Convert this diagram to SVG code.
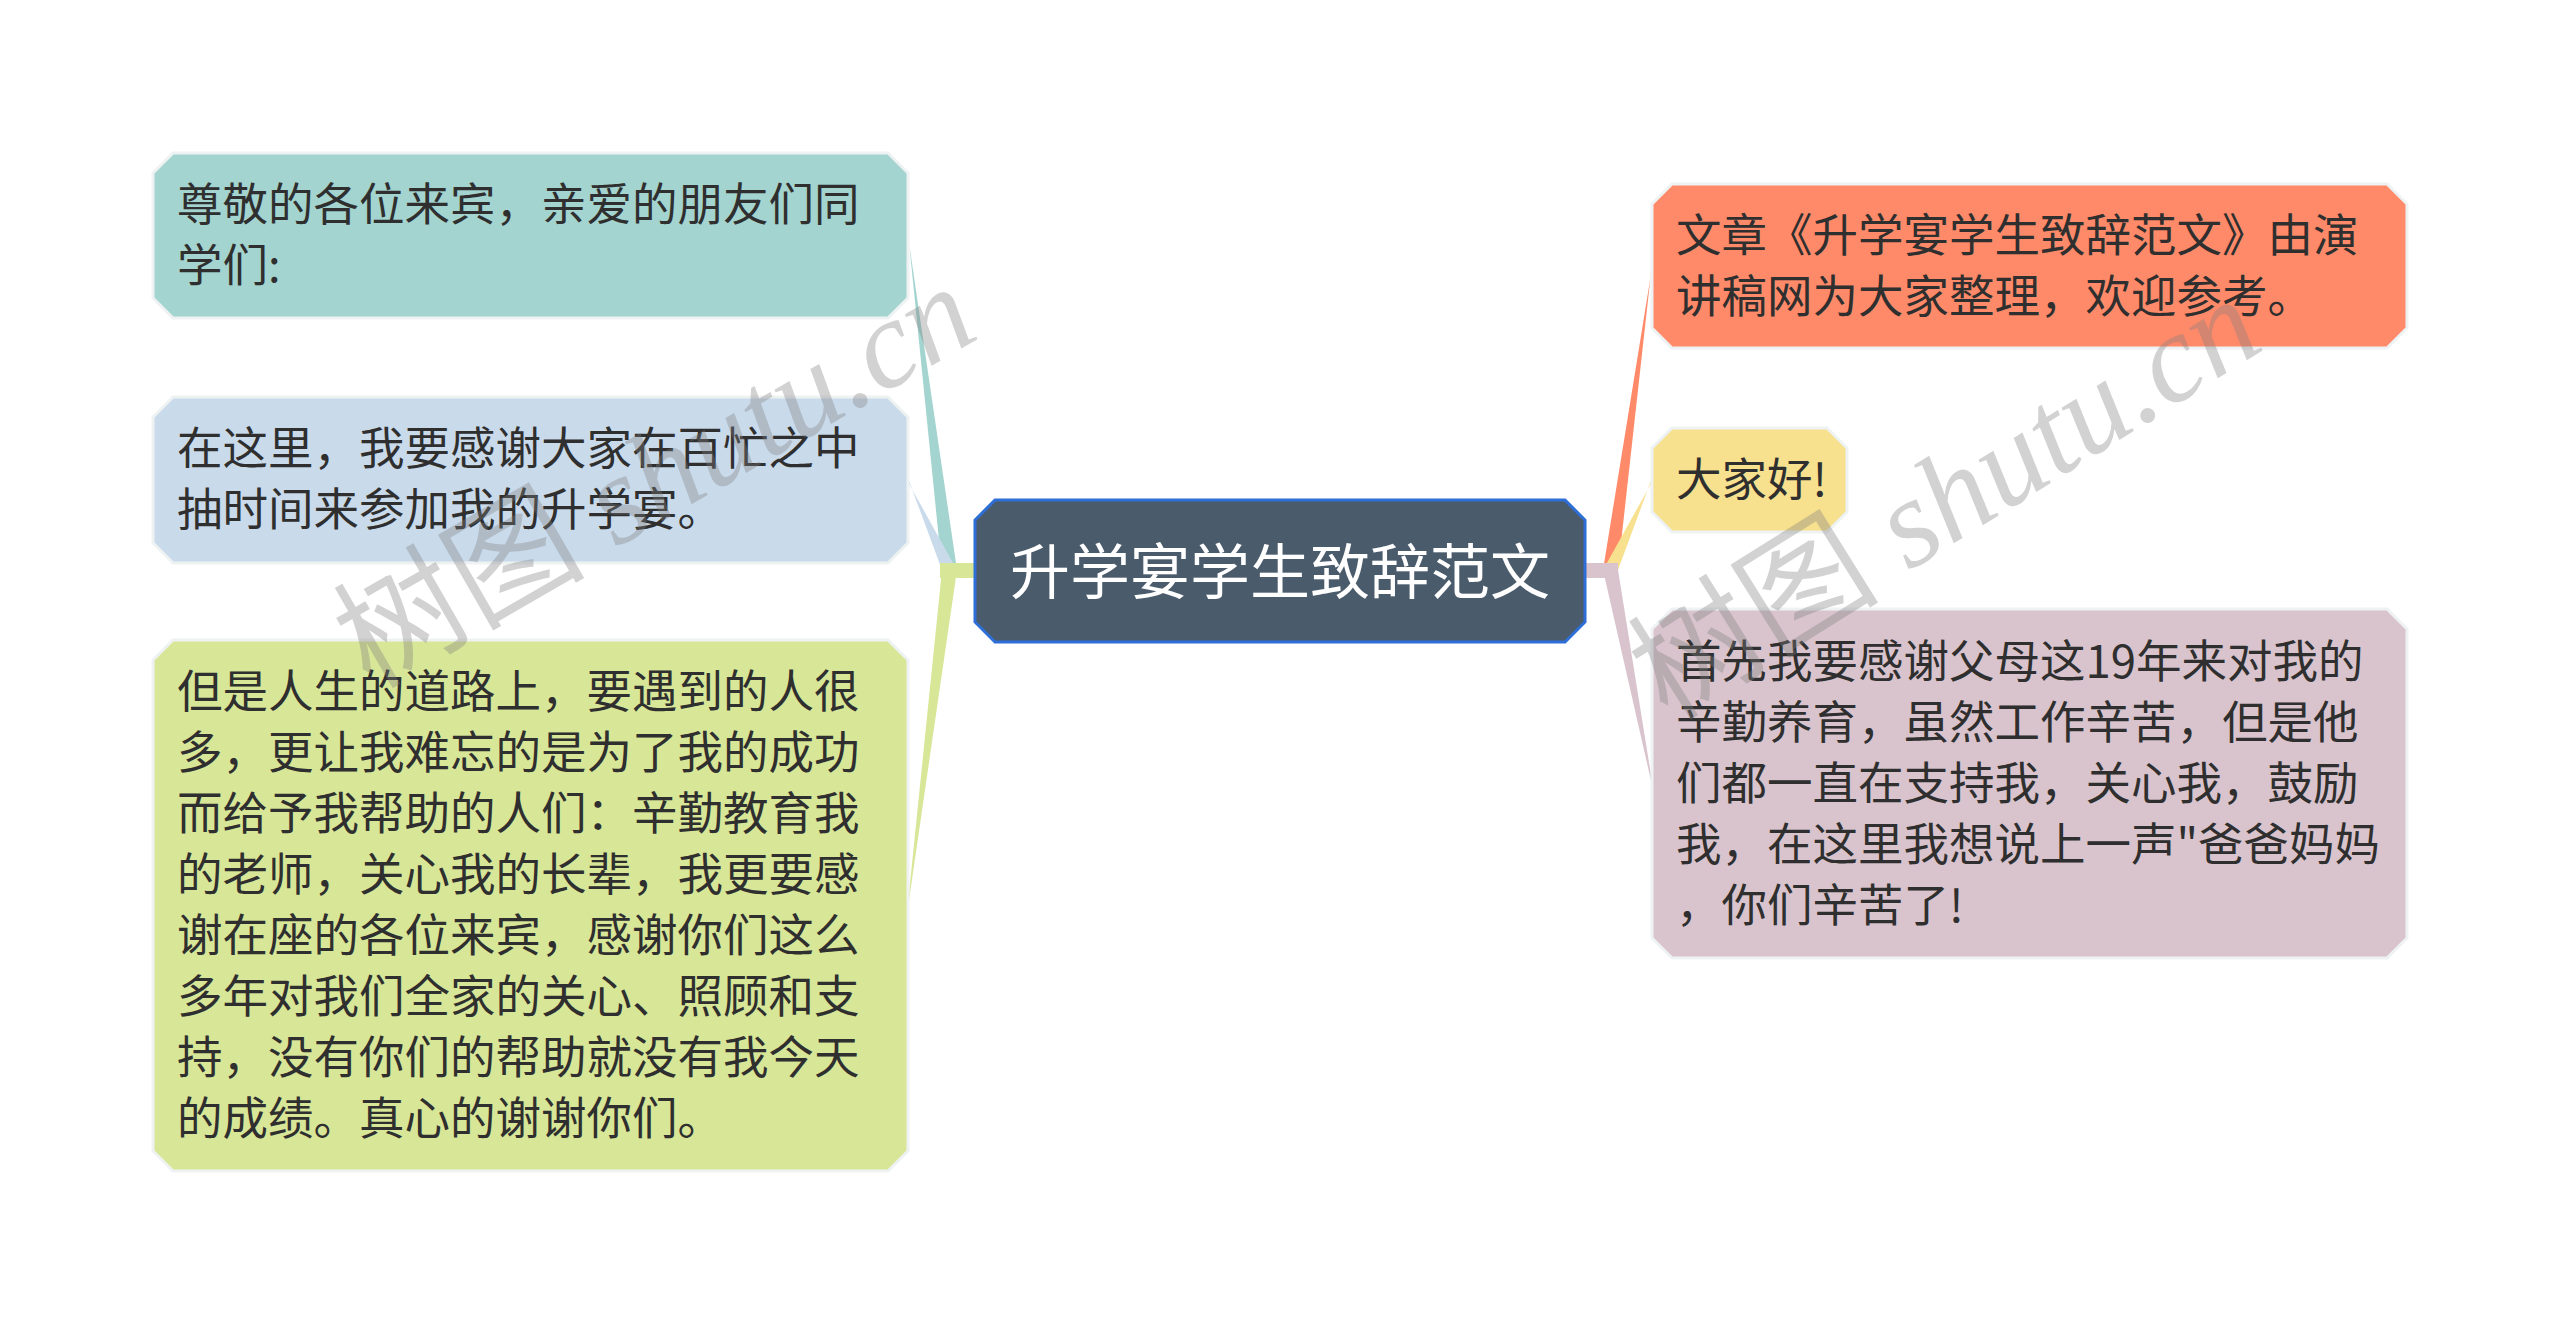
<svg xmlns="http://www.w3.org/2000/svg" width="2560" height="1326" viewBox="0 0 2560 1326">
<style>
.node{stroke:#eef2f3;stroke-width:3}
.t{font-family:"Noto Sans CJK SC","Noto Sans",sans-serif;font-size:45.5px;fill:#2f2f2f}
.ct{font-family:"Noto Sans CJK SC","Noto Sans",sans-serif;font-size:60px;fill:#ffffff}
.wm{fill:#808080;opacity:0.35;font-size:126px}
.wmc{font-family:"Noto Sans CJK SC",sans-serif}
.wml{font-family:"Liberation Serif",serif;font-style:italic}
</style>
<rect width="2560" height="1326" fill="#ffffff"/>
<g id="connectors">
<polygon points="908,232 908,236 957,570 942,570" fill="#a3d4cf"/>
<polygon points="908,478 908,482 957,570 942,570" fill="#c9daeb"/>
<polygon points="908,903 908,907 957,570 942,570" fill="#d8e697"/>
<rect x="940" y="563" width="36" height="15" fill="#d8e697"/>
<polygon points="1652,264 1652,268 1603,570 1618,570" fill="#ff8a69"/>
<polygon points="1652,478 1652,482 1603,570 1618,570" fill="#f7e08e"/>
<polygon points="1652,781 1652,785 1603,570 1618,570" fill="#d9c4cd"/>
<rect x="1584" y="563" width="34" height="15" fill="#d9c4cd"/>
</g>
<g id="center">
<polygon points="995,500 1565,500 1585,520 1585,622 1565,642 995,642 975,622 975,520" fill="#4a5b6b" stroke="#2d6fd6" stroke-width="3"/>
<text class="ct" x="1280" y="594" text-anchor="middle">升学宴学生致辞范文</text>
</g>
<g id="node1">
<polygon class="node" points="173,153 888,153 908,173 908,298 888,318 173,318 153,298 153,173" fill="#a3d4cf"/>
<text class="t"><tspan x="177" y="221">尊敬的各位来宾，亲爱的朋友们同</tspan><tspan x="177" y="282">学们:</tspan></text>
</g>
<g id="node2">
<polygon class="node" points="173,397 888,397 908,417 908,543 888,563 173,563 153,543 153,417" fill="#c9daeb"/>
<text class="t"><tspan x="177" y="465">在这里，我要感谢大家在百忙之中</tspan><tspan x="177" y="526">抽时间来参加我的升学宴。</tspan></text>
</g>
<g id="node3">
<polygon class="node" points="173,640 888,640 908,660 908,1151 888,1171 173,1171 153,1151 153,660" fill="#d8e697"/>
<text class="t"><tspan x="177" y="708">但是人生的道路上，要遇到的人很</tspan><tspan x="177" y="769">多，更让我难忘的是为了我的成功</tspan><tspan x="177" y="830">而给予我帮助的人们：辛勤教育我</tspan><tspan x="177" y="891">的老师，关心我的长辈，我更要感</tspan><tspan x="177" y="952">谢在座的各位来宾，感谢你们这么</tspan><tspan x="177" y="1013">多年对我们全家的关心、照顾和支</tspan><tspan x="177" y="1074">持，没有你们的帮助就没有我今天</tspan><tspan x="177" y="1135">的成绩。真心的谢谢你们。</tspan></text>
</g>
<g id="node4">
<polygon class="node" points="1672,184 2387,184 2407,204 2407,328 2387,348 1672,348 1652,328 1652,204" fill="#ff8a69"/>
<text class="t"><tspan x="1676" y="252">文章《升学宴学生致辞范文》由演</tspan><tspan x="1676" y="313">讲稿网为大家整理，欢迎参考。</tspan></text>
</g>
<g id="node5">
<polygon class="node" points="1672,428 1827,428 1847,448 1847,512 1827,532 1672,532 1652,512 1652,448" fill="#f7e08e"/>
<text class="t" x="1676" y="496">大家好!</text>
</g>
<g id="node6">
<polygon class="node" points="1672,609 2387,609 2407,629 2407,938 2387,958 1672,958 1652,938 1652,629" fill="#d9c4cd"/>
<text class="t"><tspan x="1676" y="678">首先我要感谢父母这19年来对我的</tspan><tspan x="1676" y="739">辛勤养育，虽然工作辛苦，但是他</tspan><tspan x="1676" y="800">们都一直在支持我，关心我，鼓励</tspan><tspan x="1676" y="861">我，在这里我想说上一声"爸爸妈妈</tspan><tspan x="1676" y="922">，你们辛苦了!</tspan></text>
</g>
<g id="watermarks">
<text class="wm" transform="translate(370,690) rotate(-30)"><tspan class="wmc">树图</tspan><tspan class="wml"> shutu.cn</tspan></text>
<text class="wm" transform="translate(1668,722) rotate(-32)"><tspan class="wmc">树图</tspan><tspan class="wml"> shutu.cn</tspan></text>
</g>
</svg>
